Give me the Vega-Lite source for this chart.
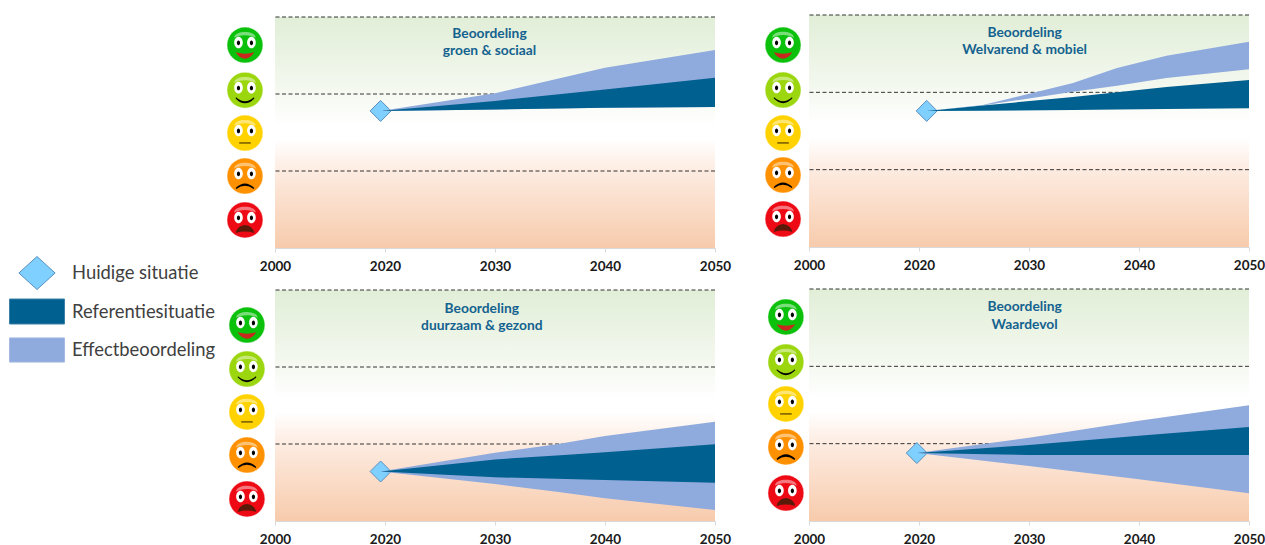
{"$schema":"https://vega.github.io/schema/vega-lite/v6.json","background":"white","padding":{"left":7,"top":14,"right":0,"bottom":0},"bounds":"flush","spacing":210,"resolve":{"scale":{"color":"independent","shape":"independent","stroke":"independent","fill":"independent"}},"config":{"view":{"stroke":null},"axisX":{"domainColor":"#d9d9d9","tickColor":"#d9d9d9","tickSize":4,"grid":false,"labelFont":"Lato","labelFontWeight":"bold","labelFontSize":13.5,"labelColor":"#1a1a1a","labelPadding":7.5,"labelFlush":false,"title":null,"labelExpr":"datum.value==2010?'2000':datum.label","format":"d"}},"datasets":{"legend":[{"item":"Huidige situatie"},{"item":"Referentiesituatie"},{"item":"Effectbeoordeling"}],"bands":[{"y0":0,"y1":3}],"dashes":[{"score":1},{"score":2},{"score":3}],"diamonds":[{"panel":"TL","year":2019.6,"score":1.78},{"panel":"TR","year":2020.7,"score":1.76},{"panel":"BL","year":2019.6,"score":0.643},{"panel":"BR","year":2019.8,"score":0.879}],"series":[{"panel":"TL","year":2019.6,"refLow":1.78,"refHigh":1.78,"effLow":1.78,"effHigh":1.78},{"panel":"TL","year":2030,"refLow":1.8,"refHigh":1.91,"effLow":1.8,"effHigh":2.01},{"panel":"TL","year":2040,"refLow":1.82,"refHigh":2.06,"effLow":1.82,"effHigh":2.34},{"panel":"TL","year":2050,"refLow":1.83,"refHigh":2.21,"effLow":1.83,"effHigh":2.57},{"panel":"TR","year":2020.7,"refLow":1.76,"refHigh":1.76,"effLow":1.76,"effHigh":1.76},{"panel":"TR","year":2025.8,"refLow":1.763,"refHigh":1.83,"effLow":1.83,"effHigh":1.836},{"panel":"TR","year":2034,"refLow":1.772,"refHigh":1.94,"effLow":2.008,"effHigh":2.12},{"panel":"TR","year":2038,"refLow":1.778,"refHigh":2.0,"effLow":2.086,"effHigh":2.315},{"panel":"TR","year":2042.5,"refLow":1.785,"refHigh":2.07,"effLow":2.185,"effHigh":2.474},{"panel":"TR","year":2050,"refLow":1.794,"refHigh":2.16,"effLow":2.3,"effHigh":2.655},{"panel":"BL","year":2019.6,"refLow":0.643,"refHigh":0.643,"effLow":0.643,"effHigh":0.643},{"panel":"BL","year":2030,"refLow":0.567,"refHigh":0.8,"effLow":0.48,"effHigh":0.887},{"panel":"BL","year":2035.6,"refLow":0.55,"refHigh":0.85,"effLow":0.38,"effHigh":0.996},{"panel":"BL","year":2040,"refLow":0.532,"refHigh":0.892,"effLow":0.295,"effHigh":1.104},{"panel":"BL","year":2050,"refLow":0.498,"refHigh":0.996,"effLow":0.143,"effHigh":1.29},{"panel":"BR","year":2019.8,"refLow":0.879,"refHigh":0.879,"effLow":0.879,"effHigh":0.879},{"panel":"BR","year":2030,"refLow":0.853,"refHigh":0.983,"effLow":0.711,"effHigh":1.077},{"panel":"BR","year":2040,"refLow":0.853,"refHigh":1.103,"effLow":0.539,"effHigh":1.297},{"panel":"BR","year":2050,"refLow":0.853,"refHigh":1.216,"effLow":0.358,"effHigh":1.496}],"titles":[{"panel":"TL","year":2029.5,"score":2.79,"text":"Beoordeling"},{"panel":"TL","year":2029.5,"score":2.57,"text":"groen & sociaal"},{"panel":"TR","year":2029.6,"score":2.78,"text":"Beoordeling"},{"panel":"TR","year":2029.6,"score":2.56,"text":"Welvarend & mobiel"},{"panel":"BL","year":2028.8,"score":2.766,"text":"Beoordeling"},{"panel":"BL","year":2028.8,"score":2.545,"text":"duurzaam & gezond"},{"panel":"BR","year":2029.6,"score":2.78,"text":"Beoordeling"},{"panel":"BR","year":2029.6,"score":2.547,"text":"Waardevol"}],"faces":[{"panel":"TL","mood":"a","year":2007.27,"score":2.636},{"panel":"TL","mood":"b","year":2007.27,"score":2.05},{"panel":"TL","mood":"c","year":2007.27,"score":1.493},{"panel":"TL","mood":"d","year":2007.27,"score":0.935},{"panel":"TL","mood":"e","year":2007.27,"score":0.364},{"panel":"TR","mood":"a","year":2007.64,"score":2.612},{"panel":"TR","mood":"b","year":2007.64,"score":2.03},{"panel":"TR","mood":"c","year":2007.64,"score":1.474},{"panel":"TR","mood":"d","year":2007.64,"score":0.931},{"panel":"TR","mood":"e","year":2007.64,"score":0.362},{"panel":"BL","mood":"a","year":2007.45,"score":2.545},{"panel":"BL","mood":"b","year":2007.45,"score":1.974},{"panel":"BL","mood":"c","year":2007.45,"score":1.416},{"panel":"BL","mood":"d","year":2007.45,"score":0.857},{"panel":"BL","mood":"e","year":2007.45,"score":0.286},{"panel":"BR","mood":"a","year":2007.9,"score":2.638},{"panel":"BR","mood":"b","year":2007.9,"score":2.056},{"panel":"BR","mood":"c","year":2007.9,"score":1.513},{"panel":"BR","mood":"d","year":2007.9,"score":0.957},{"panel":"BR","mood":"e","year":2007.9,"score":0.362}]},"hconcat":[{"width":56,"height":357,"data":{"name":"legend"},"encoding":{"y":{"field":"item","type":"nominal","axis":null,"sort":null,"scale":{"type":"point","padding":0,"domain":["Huidige situatie","Referentiesituatie","Effectbeoordeling"],"range":[258,335]}}},"layer":[{"mark":{"type":"point","filled":true,"opacity":1,"size":12100,"strokeWidth":1},"encoding":{"shape":{"field":"item","type":"nominal","legend":null,"scale":{"domain":["Huidige situatie","Referentiesituatie","Effectbeoordeling"],"range":["M0,-0.3L0.33,0L0,0.3L-0.33,0Z","M-0.5,-0.227H0.5V0.227H-0.5Z","M-0.5,-0.22H0.5V0.22H-0.5Z"]}},"color":{"field":"item","type":"nominal","legend":null,"scale":{"domain":["Huidige situatie","Referentiesituatie","Effectbeoordeling"],"range":["#7fd0ff","#00608f","#8faadc"]}},"stroke":{"field":"item","type":"nominal","legend":null,"scale":{"domain":["Huidige situatie","Referentiesituatie","Effectbeoordeling"],"range":["#5b8fbf","#3a80a8","#a5bbe3"]}}}},{"mark":{"type":"text","align":"left","dx":35,"font":"Lato","fontSize":18.4,"color":"#404040"},"encoding":{"text":{"field":"item"}}}]},{"bounds":"flush","columns":2,"spacing":{"row":41,"column":94},"concat":[{"width":440,"height":233,"encoding":{"x":{"field":"year","type":"quantitative","scale":{"domain":[2010,2050],"nice":false,"zero":false},"axis":{"values":[2010,2020,2030,2040,2050]}}},"layer":[{"data":{"name":"bands"},"mark":{"type":"rect","color":{"gradient":"linear","x1":0,"y1":0,"x2":0,"y2":1,"stops":[{"offset":0,"color":"#e1eed7"},{"offset":0.33,"color":"#f5f9f1"},{"offset":0.47,"color":"#ffffff"},{"offset":0.53,"color":"#ffffff"},{"offset":0.67,"color":"#fdebe0"},{"offset":1,"color":"#f7cbac"}]}},"encoding":{"x":null,"y":{"field":"y1","type":"quantitative","axis":null,"scale":{"domain":[0,3.026],"nice":false,"zero":false}},"y2":{"field":"y0"}}},{"data":{"name":"dashes"},"mark":{"type":"rule","stroke":"#333333","strokeWidth":1,"strokeDash":[4,2.5]},"encoding":{"x":null,"y":{"field":"score","type":"quantitative"}}},{"data":{"name":"diamonds"},"transform":[{"filter":"datum.panel=='TL'"}],"mark":{"type":"point","shape":"diamond","filled":true,"opacity":1,"size":441,"fill":"#7fd0ff","stroke":"#5b8fbf","strokeWidth":1},"encoding":{"y":{"field":"score","type":"quantitative"}}},{"data":{"name":"series"},"transform":[{"filter":"datum.panel=='TL'"}],"mark":{"type":"area","color":"#8faadc","opacity":1},"encoding":{"y":{"field":"effHigh","type":"quantitative"},"y2":{"field":"effLow"}}},{"data":{"name":"series"},"transform":[{"filter":"datum.panel=='TL'"}],"mark":{"type":"area","color":"#00608f","opacity":1},"encoding":{"y":{"field":"refHigh","type":"quantitative"},"y2":{"field":"refLow"}}},{"data":{"name":"titles"},"transform":[{"filter":"datum.panel=='TL'"}],"mark":{"type":"text","align":"center","dy":1,"font":"Lato","fontWeight":"bold","fontSize":13.8,"color":"#14628f"},"encoding":{"y":{"field":"score","type":"quantitative"},"text":{"field":"text"}}},{"data":{"name":"faces"},"transform":[{"filter":"datum.panel=='TL'"}],"encoding":{"y":{"field":"score","type":"quantitative"}},"layer":[{"mark":{"type":"point","shape":"circle","filled":true,"opacity":1,"size":1296,"stroke":"#ffffff","strokeOpacity":0.5,"strokeWidth":1},"encoding":{"color":{"field":"mood","type":"nominal","legend":null,"scale":{"domain":["a","b","c","d","e"],"range":["#0cc10c","#9bd60e","#ffd200","#ff9000","#ee0a14"]}}}},{"mark":{"type":"point","shape":"M-0.3,-0.2C-0.3,-0.42 0.3,-0.42 0.3,-0.2C0.15,-0.3 -0.15,-0.3 -0.3,-0.2Z","filled":true,"size":5184,"color":"#ffffff","opacity":0.45}},{"mark":{"type":"point","shape":"M-0.3,-0.07a0.12,0.16 0 1,0 0.24,0a0.12,0.16 0 1,0 -0.24,0ZM0.06,-0.07a0.12,0.16 0 1,0 0.24,0a0.12,0.16 0 1,0 -0.24,0Z","filled":true,"size":5184,"color":"#ffffff","opacity":1}},{"mark":{"type":"point","shape":"M-0.225,-0.06a0.045,0.065 0 1,0 0.09,0a0.045,0.065 0 1,0 -0.09,0ZM0.135,-0.06a0.045,0.065 0 1,0 0.09,0a0.045,0.065 0 1,0 -0.09,0Z","filled":true,"size":5184,"color":"#000000","opacity":1}},{"mark":{"type":"point","filled":true,"size":5184,"opacity":1},"encoding":{"shape":{"field":"mood","type":"nominal","legend":null,"scale":{"domain":["a","b","c","d","e"],"range":["M-0.26,0.2Q0,0.28 0.26,0.2Q0.14,0.38 0,0.38Q-0.14,0.38 -0.26,0.2Z","M-0.25,0.2Q0,0.42 0.25,0.2L0.26,0.23Q0,0.5 -0.26,0.23Z","M-0.16,0.25H0.16V0.3H-0.16Z","M-0.26,0.33Q0,0.08 0.26,0.33L0.24,0.36Q0,0.18 -0.24,0.36Z","M-0.26,0.36Q-0.2,0.15 0,0.14Q0.2,0.15 0.26,0.36Q0,0.28 -0.26,0.36Z"]}},"fill":{"field":"mood","type":"nominal","legend":null,"scale":{"domain":["a","b","c","d","e"],"range":["#c8281e","#000000","#8a6d00","#000000","#5a1a0a"]}}}}]}]},{"width":440,"height":233,"encoding":{"x":{"field":"year","type":"quantitative","scale":{"domain":[2010,2050],"nice":false,"zero":false},"axis":{"offset":-1,"values":[2010,2020,2030,2040,2050]}}},"layer":[{"data":{"name":"bands"},"mark":{"type":"rect","color":{"gradient":"linear","x1":0,"y1":0,"x2":0,"y2":1,"stops":[{"offset":0,"color":"#e1eed7"},{"offset":0.33,"color":"#f5f9f1"},{"offset":0.47,"color":"#ffffff"},{"offset":0.53,"color":"#ffffff"},{"offset":0.67,"color":"#fdebe0"},{"offset":1,"color":"#f7cbac"}]}},"encoding":{"x":null,"y":{"field":"y1","type":"quantitative","axis":null,"scale":{"domain":[-0.0129,3],"nice":false,"zero":false}},"y2":{"field":"y0"}}},{"data":{"name":"dashes"},"mark":{"type":"rule","stroke":"#333333","strokeWidth":1,"strokeDash":[4,2.5]},"encoding":{"x":null,"y":{"field":"score","type":"quantitative"}}},{"data":{"name":"diamonds"},"transform":[{"filter":"datum.panel=='TR'"}],"mark":{"type":"point","shape":"diamond","filled":true,"opacity":1,"size":441,"fill":"#7fd0ff","stroke":"#5b8fbf","strokeWidth":1},"encoding":{"y":{"field":"score","type":"quantitative"}}},{"data":{"name":"series"},"transform":[{"filter":"datum.panel=='TR'"}],"mark":{"type":"area","color":"#8faadc","opacity":1},"encoding":{"y":{"field":"effHigh","type":"quantitative"},"y2":{"field":"effLow"}}},{"data":{"name":"series"},"transform":[{"filter":"datum.panel=='TR'"}],"mark":{"type":"area","color":"#00608f","opacity":1},"encoding":{"y":{"field":"refHigh","type":"quantitative"},"y2":{"field":"refLow"}}},{"data":{"name":"titles"},"transform":[{"filter":"datum.panel=='TR'"}],"mark":{"type":"text","align":"center","dy":1,"font":"Lato","fontWeight":"bold","fontSize":13.8,"color":"#14628f"},"encoding":{"y":{"field":"score","type":"quantitative"},"text":{"field":"text"}}},{"data":{"name":"faces"},"transform":[{"filter":"datum.panel=='TR'"}],"encoding":{"y":{"field":"score","type":"quantitative"}},"layer":[{"mark":{"type":"point","shape":"circle","filled":true,"opacity":1,"size":1296,"stroke":"#ffffff","strokeOpacity":0.5,"strokeWidth":1},"encoding":{"color":{"field":"mood","type":"nominal","legend":null,"scale":{"domain":["a","b","c","d","e"],"range":["#0cc10c","#9bd60e","#ffd200","#ff9000","#ee0a14"]}}}},{"mark":{"type":"point","shape":"M-0.3,-0.2C-0.3,-0.42 0.3,-0.42 0.3,-0.2C0.15,-0.3 -0.15,-0.3 -0.3,-0.2Z","filled":true,"size":5184,"color":"#ffffff","opacity":0.45}},{"mark":{"type":"point","shape":"M-0.3,-0.07a0.12,0.16 0 1,0 0.24,0a0.12,0.16 0 1,0 -0.24,0ZM0.06,-0.07a0.12,0.16 0 1,0 0.24,0a0.12,0.16 0 1,0 -0.24,0Z","filled":true,"size":5184,"color":"#ffffff","opacity":1}},{"mark":{"type":"point","shape":"M-0.225,-0.06a0.045,0.065 0 1,0 0.09,0a0.045,0.065 0 1,0 -0.09,0ZM0.135,-0.06a0.045,0.065 0 1,0 0.09,0a0.045,0.065 0 1,0 -0.09,0Z","filled":true,"size":5184,"color":"#000000","opacity":1}},{"mark":{"type":"point","filled":true,"size":5184,"opacity":1},"encoding":{"shape":{"field":"mood","type":"nominal","legend":null,"scale":{"domain":["a","b","c","d","e"],"range":["M-0.26,0.2Q0,0.28 0.26,0.2Q0.14,0.38 0,0.38Q-0.14,0.38 -0.26,0.2Z","M-0.25,0.2Q0,0.42 0.25,0.2L0.26,0.23Q0,0.5 -0.26,0.23Z","M-0.16,0.25H0.16V0.3H-0.16Z","M-0.26,0.33Q0,0.08 0.26,0.33L0.24,0.36Q0,0.18 -0.24,0.36Z","M-0.26,0.36Q-0.2,0.15 0,0.14Q0.2,0.15 0.26,0.36Q0,0.28 -0.26,0.36Z"]}},"fill":{"field":"mood","type":"nominal","legend":null,"scale":{"domain":["a","b","c","d","e"],"range":["#c8281e","#000000","#8a6d00","#000000","#5a1a0a"]}}}}]}]},{"width":440,"height":232,"encoding":{"x":{"field":"year","type":"quantitative","scale":{"domain":[2010,2050],"nice":false,"zero":false},"axis":{"values":[2010,2020,2030,2040,2050]}}},"layer":[{"data":{"name":"bands"},"mark":{"type":"rect","color":{"gradient":"linear","x1":0,"y1":0,"x2":0,"y2":1,"stops":[{"offset":0,"color":"#e1eed7"},{"offset":0.33,"color":"#f5f9f1"},{"offset":0.47,"color":"#ffffff"},{"offset":0.53,"color":"#ffffff"},{"offset":0.67,"color":"#fdebe0"},{"offset":1,"color":"#f7cbac"}]}},"encoding":{"x":null,"y":{"field":"y1","type":"quantitative","axis":null,"scale":{"domain":[0,3.013],"nice":false,"zero":false}},"y2":{"field":"y0"}}},{"data":{"name":"dashes"},"mark":{"type":"rule","stroke":"#333333","strokeWidth":1,"strokeDash":[4,2.5]},"encoding":{"x":null,"y":{"field":"score","type":"quantitative"}}},{"data":{"name":"diamonds"},"transform":[{"filter":"datum.panel=='BL'"}],"mark":{"type":"point","shape":"diamond","filled":true,"opacity":1,"size":441,"fill":"#7fd0ff","stroke":"#5b8fbf","strokeWidth":1},"encoding":{"y":{"field":"score","type":"quantitative"}}},{"data":{"name":"series"},"transform":[{"filter":"datum.panel=='BL'"}],"mark":{"type":"area","color":"#8faadc","opacity":1},"encoding":{"y":{"field":"effHigh","type":"quantitative"},"y2":{"field":"effLow"}}},{"data":{"name":"series"},"transform":[{"filter":"datum.panel=='BL'"}],"mark":{"type":"area","color":"#00608f","opacity":1},"encoding":{"y":{"field":"refHigh","type":"quantitative"},"y2":{"field":"refLow"}}},{"data":{"name":"titles"},"transform":[{"filter":"datum.panel=='BL'"}],"mark":{"type":"text","align":"center","dy":1,"font":"Lato","fontWeight":"bold","fontSize":13.8,"color":"#14628f"},"encoding":{"y":{"field":"score","type":"quantitative"},"text":{"field":"text"}}},{"data":{"name":"faces"},"transform":[{"filter":"datum.panel=='BL'"}],"encoding":{"y":{"field":"score","type":"quantitative"}},"layer":[{"mark":{"type":"point","shape":"circle","filled":true,"opacity":1,"size":1296,"stroke":"#ffffff","strokeOpacity":0.5,"strokeWidth":1},"encoding":{"color":{"field":"mood","type":"nominal","legend":null,"scale":{"domain":["a","b","c","d","e"],"range":["#0cc10c","#9bd60e","#ffd200","#ff9000","#ee0a14"]}}}},{"mark":{"type":"point","shape":"M-0.3,-0.2C-0.3,-0.42 0.3,-0.42 0.3,-0.2C0.15,-0.3 -0.15,-0.3 -0.3,-0.2Z","filled":true,"size":5184,"color":"#ffffff","opacity":0.45}},{"mark":{"type":"point","shape":"M-0.3,-0.07a0.12,0.16 0 1,0 0.24,0a0.12,0.16 0 1,0 -0.24,0ZM0.06,-0.07a0.12,0.16 0 1,0 0.24,0a0.12,0.16 0 1,0 -0.24,0Z","filled":true,"size":5184,"color":"#ffffff","opacity":1}},{"mark":{"type":"point","shape":"M-0.225,-0.06a0.045,0.065 0 1,0 0.09,0a0.045,0.065 0 1,0 -0.09,0ZM0.135,-0.06a0.045,0.065 0 1,0 0.09,0a0.045,0.065 0 1,0 -0.09,0Z","filled":true,"size":5184,"color":"#000000","opacity":1}},{"mark":{"type":"point","filled":true,"size":5184,"opacity":1},"encoding":{"shape":{"field":"mood","type":"nominal","legend":null,"scale":{"domain":["a","b","c","d","e"],"range":["M-0.26,0.2Q0,0.28 0.26,0.2Q0.14,0.38 0,0.38Q-0.14,0.38 -0.26,0.2Z","M-0.25,0.2Q0,0.42 0.25,0.2L0.26,0.23Q0,0.5 -0.26,0.23Z","M-0.16,0.25H0.16V0.3H-0.16Z","M-0.26,0.33Q0,0.08 0.26,0.33L0.24,0.36Q0,0.18 -0.24,0.36Z","M-0.26,0.36Q-0.2,0.15 0,0.14Q0.2,0.15 0.26,0.36Q0,0.28 -0.26,0.36Z"]}},"fill":{"field":"mood","type":"nominal","legend":null,"scale":{"domain":["a","b","c","d","e"],"range":["#c8281e","#000000","#8a6d00","#000000","#5a1a0a"]}}}}]}]},{"width":440,"height":232,"encoding":{"x":{"field":"year","type":"quantitative","scale":{"domain":[2010,2050],"nice":false,"zero":false},"axis":{"values":[2010,2020,2030,2040,2050]}}},"layer":[{"data":{"name":"bands"},"mark":{"type":"rect","color":{"gradient":"linear","x1":0,"y1":0,"x2":0,"y2":1,"stops":[{"offset":0,"color":"#e1eed7"},{"offset":0.33,"color":"#f5f9f1"},{"offset":0.47,"color":"#ffffff"},{"offset":0.53,"color":"#ffffff"},{"offset":0.67,"color":"#fdebe0"},{"offset":1,"color":"#f7cbac"}]}},"encoding":{"x":null,"y":{"field":"y1","type":"quantitative","axis":null,"scale":{"domain":[0,3],"nice":false,"zero":false}},"y2":{"field":"y0"}}},{"data":{"name":"dashes"},"mark":{"type":"rule","stroke":"#333333","strokeWidth":1,"strokeDash":[4,2.5]},"encoding":{"x":null,"y":{"field":"score","type":"quantitative"}}},{"data":{"name":"diamonds"},"transform":[{"filter":"datum.panel=='BR'"}],"mark":{"type":"point","shape":"diamond","filled":true,"opacity":1,"size":441,"fill":"#7fd0ff","stroke":"#5b8fbf","strokeWidth":1},"encoding":{"y":{"field":"score","type":"quantitative"}}},{"data":{"name":"series"},"transform":[{"filter":"datum.panel=='BR'"}],"mark":{"type":"area","color":"#8faadc","opacity":1},"encoding":{"y":{"field":"effHigh","type":"quantitative"},"y2":{"field":"effLow"}}},{"data":{"name":"series"},"transform":[{"filter":"datum.panel=='BR'"}],"mark":{"type":"area","color":"#00608f","opacity":1},"encoding":{"y":{"field":"refHigh","type":"quantitative"},"y2":{"field":"refLow"}}},{"data":{"name":"titles"},"transform":[{"filter":"datum.panel=='BR'"}],"mark":{"type":"text","align":"center","dy":1,"font":"Lato","fontWeight":"bold","fontSize":13.8,"color":"#14628f"},"encoding":{"y":{"field":"score","type":"quantitative"},"text":{"field":"text"}}},{"data":{"name":"faces"},"transform":[{"filter":"datum.panel=='BR'"}],"encoding":{"y":{"field":"score","type":"quantitative"}},"layer":[{"mark":{"type":"point","shape":"circle","filled":true,"opacity":1,"size":1296,"stroke":"#ffffff","strokeOpacity":0.5,"strokeWidth":1},"encoding":{"color":{"field":"mood","type":"nominal","legend":null,"scale":{"domain":["a","b","c","d","e"],"range":["#0cc10c","#9bd60e","#ffd200","#ff9000","#ee0a14"]}}}},{"mark":{"type":"point","shape":"M-0.3,-0.2C-0.3,-0.42 0.3,-0.42 0.3,-0.2C0.15,-0.3 -0.15,-0.3 -0.3,-0.2Z","filled":true,"size":5184,"color":"#ffffff","opacity":0.45}},{"mark":{"type":"point","shape":"M-0.3,-0.07a0.12,0.16 0 1,0 0.24,0a0.12,0.16 0 1,0 -0.24,0ZM0.06,-0.07a0.12,0.16 0 1,0 0.24,0a0.12,0.16 0 1,0 -0.24,0Z","filled":true,"size":5184,"color":"#ffffff","opacity":1}},{"mark":{"type":"point","shape":"M-0.225,-0.06a0.045,0.065 0 1,0 0.09,0a0.045,0.065 0 1,0 -0.09,0ZM0.135,-0.06a0.045,0.065 0 1,0 0.09,0a0.045,0.065 0 1,0 -0.09,0Z","filled":true,"size":5184,"color":"#000000","opacity":1}},{"mark":{"type":"point","filled":true,"size":5184,"opacity":1},"encoding":{"shape":{"field":"mood","type":"nominal","legend":null,"scale":{"domain":["a","b","c","d","e"],"range":["M-0.26,0.2Q0,0.28 0.26,0.2Q0.14,0.38 0,0.38Q-0.14,0.38 -0.26,0.2Z","M-0.25,0.2Q0,0.42 0.25,0.2L0.26,0.23Q0,0.5 -0.26,0.23Z","M-0.16,0.25H0.16V0.3H-0.16Z","M-0.26,0.33Q0,0.08 0.26,0.33L0.24,0.36Q0,0.18 -0.24,0.36Z","M-0.26,0.36Q-0.2,0.15 0,0.14Q0.2,0.15 0.26,0.36Q0,0.28 -0.26,0.36Z"]}},"fill":{"field":"mood","type":"nominal","legend":null,"scale":{"domain":["a","b","c","d","e"],"range":["#c8281e","#000000","#8a6d00","#000000","#5a1a0a"]}}}}]}]}]}]}
